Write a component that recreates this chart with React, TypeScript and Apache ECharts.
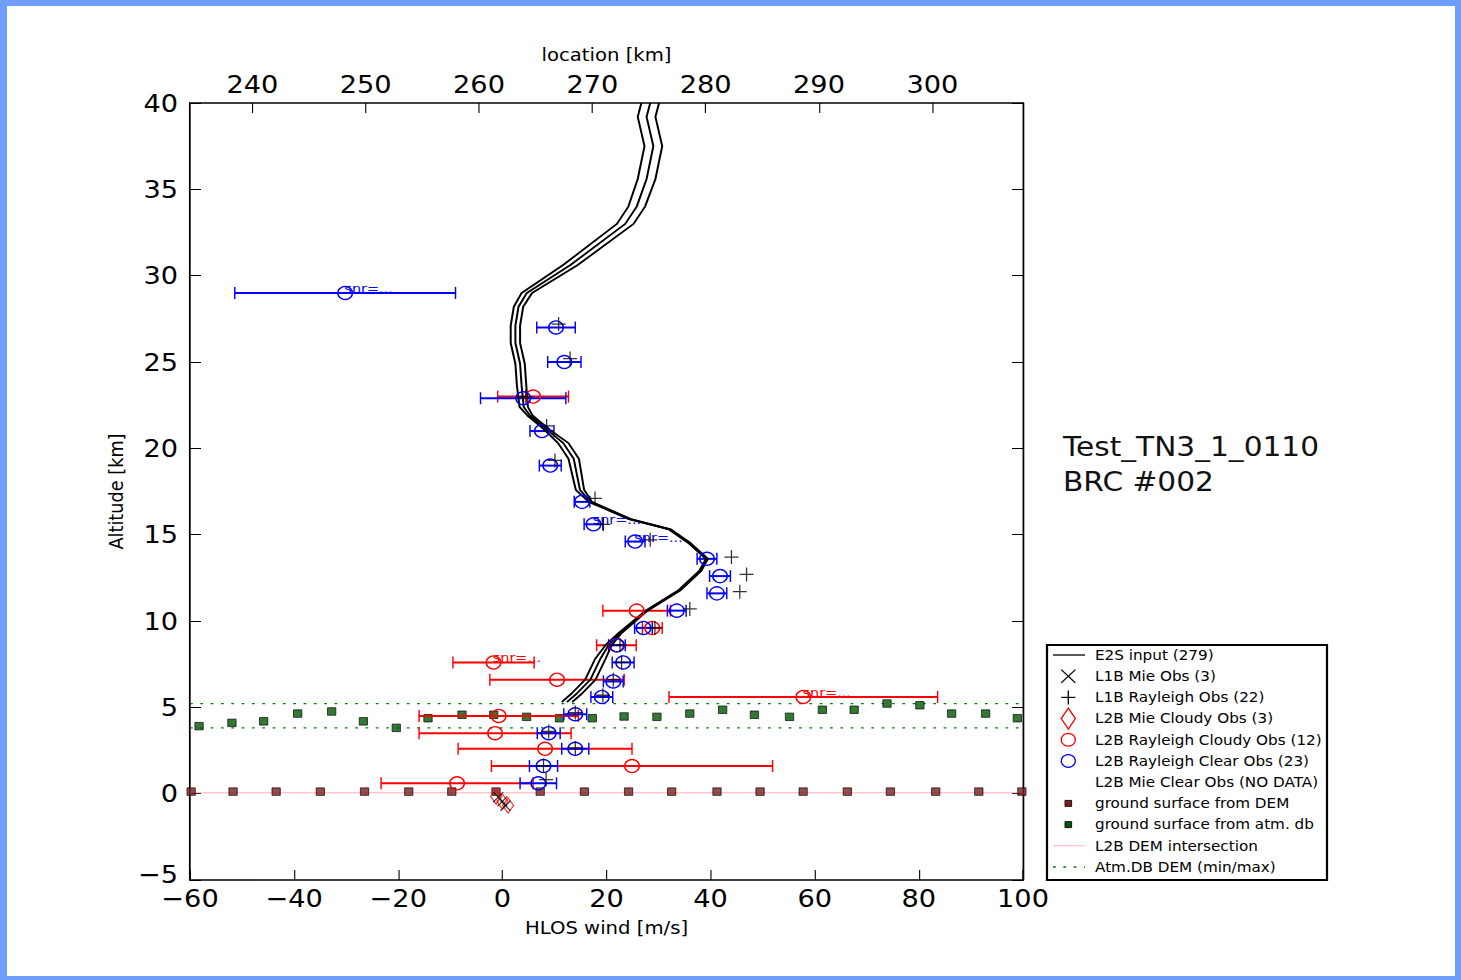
import React, { useEffect, useRef } from 'react';
import * as echarts from 'echarts';

// The reference picture is stretched horizontally; the chart is drawn narrower and scaled back.
const SX = 1.11;
const sx = (v: number) => v / SX;

// Axes
const WIND_MIN = -60;
const WIND_MAX = 100;
const WIND_STEP = 20;
const ALT_MIN = -5;
const ALT_MAX = 40;
const ALT_STEP = 5;
const LOC_MIN = 234.5;
const LOC_MAX = 308.0;

// E2S input profiles (three neighbouring profiles)
const E2S_ALT = [40.0, 39.2, 37.5, 35.6, 34.0, 33.0, 30.6, 29.0, 28.2, 27.1, 26.1, 24.9, 23.6, 22.4, 21.9, 21.1, 20.3, 19.4, 17.6, 16.9, 15.9, 15.3, 14.5, 13.6, 12.9, 11.8, 10.6, 9.3, 8.6, 7.8, 6.6, 5.8, 5.3];
const E2S_WIND_A = [26.7, 26.0, 27.3, 26.0, 24.2, 22.0, 11.6, 3.7, 2.2, 1.6, 1.6, 2.5, 2.8, 3.3, 4.8, 8.0, 10.7, 12.7, 14.1, 16.6, 24.3, 32.0, 35.8, 39.1, 37.8, 33.9, 27.5, 22.3, 19.8, 17.8, 15.9, 13.3, 11.4];
const E2S_WIND_B = [28.4, 27.7, 29.0, 27.7, 25.8, 23.6, 13.0, 4.7, 3.1, 2.5, 2.5, 3.4, 3.7, 4.1, 5.3, 8.5, 11.7, 13.7, 14.9, 16.9, 24.5, 32.2, 36.0, 39.3, 38.0, 34.1, 27.7, 22.6, 20.4, 18.8, 16.9, 14.3, 12.4];
const E2S_WIND_C = [30.1, 29.4, 30.7, 29.4, 27.4, 25.2, 14.4, 5.7, 4.0, 3.4, 3.4, 4.3, 4.6, 4.9, 5.8, 9.0, 12.7, 14.7, 15.7, 17.2, 24.7, 32.4, 36.2, 39.5, 38.2, 34.3, 27.9, 22.9, 21.0, 19.8, 17.9, 15.3, 13.4];

// L1B Mie Obs (3)
const L1B_MIE_WIND = [-0.8, 0.0, 0.6];
const L1B_MIE_ALT = [-0.2, -0.45, -0.7];

// L1B Rayleigh Obs (22)
const L1B_RAY_WIND = [10.8, 13.0, 4.5, 8.5, 10.1, 17.8, 19.4, 28.4, 44.0, 46.9, 45.6, 36.0, 29.3, 22.6, 22.9, 21.3, 19.3, 14.0, 8.9, 14.0, 7.9, 8.4];
const L1B_RAY_ALT = [27.2, 25.2, 23.0, 21.3, 19.3, 17.1, 15.6, 14.7, 13.7, 12.7, 11.7, 10.7, 9.6, 8.6, 7.6, 6.6, 5.7, 4.7, 3.6, 2.65, 1.63, 0.82];

// L2B Mie Cloudy Obs (3)
const L2B_MIE_WIND = [-1.2, 0.0, 1.1];
const L2B_MIE_ALT = [-0.17, -0.45, -0.69];

// L2B Rayleigh Cloudy Obs (12)
const RED_WIND = [5.9, 25.8, 21.9, -1.7, 10.5, 57.8, -0.7, -1.4, 8.2, 24.9, -8.7, 28.8];
const RED_ALT = [23.0, 10.6, 8.6, 7.6, 6.6, 5.6, 4.5, 3.5, 2.6, 1.6, 0.6, 9.6];
const RED_ERR = [6.8, 6.5, 3.8, 7.8, 12.9, 25.8, 15.3, 14.6, 16.7, 27.0, 14.6, 1.9];
const RED_SNR = [3, 5];

// L2B Rayleigh Clear Obs (23)
const BLUE_WIND = [-30.2, 10.3, 11.9, 4.0, 7.6, 9.2, 15.3, 17.5, 25.5, 39.3, 41.8, 41.2, 33.5, 27.1, 22.0, 23.2, 21.3, 19.1, 14.0, 8.9, 14.0, 7.9, 6.9];
const BLUE_ALT = [29.0, 27.0, 25.0, 22.9, 21.0, 19.0, 16.9, 15.6, 14.6, 13.6, 12.6, 11.6, 10.6, 9.6, 8.6, 7.6, 6.5, 5.6, 4.6, 3.5, 2.6, 1.6, 0.6];
const BLUE_ERR = [21.2, 3.7, 3.2, 8.2, 2.3, 2.1, 1.5, 1.8, 1.9, 1.9, 2.0, 1.9, 1.8, 1.7, 1.6, 2.1, 1.9, 2.1, 2.2, 2.2, 2.6, 2.7, 3.5];
const BLUE_SNR = [0, 7, 8];

// ground surface from DEM (location km / altitude km)
const DEM_LOC = [234.6, 238.3, 242.1, 246.0, 249.9, 253.8, 257.6, 261.5, 265.4, 269.3, 273.2, 277.0, 281.0, 284.8, 288.6, 292.5, 296.3, 300.3, 304.1, 307.9];
const DEM_ALT = [0.12, 0.12, 0.12, 0.12, 0.12, 0.12, 0.12, 0.12, 0.12, 0.12, 0.12, 0.12, 0.12, 0.12, 0.12, 0.12, 0.12, 0.12, 0.12, 0.12];

// ground surface from atm. db
const ATM_LOC = [235.3, 238.2, 241.0, 244.0, 247.0, 249.8, 252.7, 255.5, 258.5, 261.3, 264.2, 267.1, 270.0, 272.8, 275.7, 278.6, 281.5, 284.3, 287.4, 290.3, 293.1, 296.0, 298.9, 301.7, 304.7, 307.5];
const ATM_ALT = [3.91, 4.10, 4.19, 4.64, 4.76, 4.19, 3.81, 4.37, 4.57, 4.57, 4.45, 4.37, 4.37, 4.47, 4.45, 4.64, 4.86, 4.57, 4.45, 4.86, 4.86, 5.22, 5.12, 4.64, 4.64, 4.37];

// L2B DEM intersection
const DEM_INTERSECTION_ALT = 0.05;

const LEGEND_LABELS = [
  'E2S input (279)',
  'L1B Mie Obs (3)',
  'L1B Rayleigh Obs (22)',
  'L2B Mie Cloudy Obs (3)',
  'L2B Rayleigh Cloudy Obs (12)',
  'L2B Rayleigh Clear Obs (23)',
  'L2B Mie Clear Obs (NO DATA)',
  'ground surface from DEM',
  'ground surface from atm. db',
  'L2B DEM intersection',
  'Atm.DB DEM (min/max)',
];

const TITLE_LINES = ['Test_TN3_1_0110', 'BRC #002'];

const FONT = 'DejaVu Sans';
const BLUE = '#0000ff';
const RED = '#ff0000';
const GREEN_SQ = '#005800';
const BROWN_SQ = '#7d1f1f';
const PINK = '#ffb0bc';
const GREEN_LINE = '#008000';

const minus = (v: number) => String(v).replace('-', '\u2212');

const zip = (xs: number[], ys: number[]) => xs.map((x, i) => [x, ys[i]]);

function errorBars(name: string, xs: number[], ys: number[], errs: number[], color: string) {
  return {
    type: 'custom',
    name,
    xAxisIndex: 0,
    yAxisIndex: 0,
    clip: true,
    silent: true,
    z: 3,
    data: xs.map((x, i) => [x, ys[i], x - errs[i], x + errs[i]]),
    encode: { x: [0, 2, 3], y: 1 },
    renderItem: (_params: any, api: any) => {
      const y = api.value(1);
      const lo = api.coord([api.value(2), y]);
      const hi = api.coord([api.value(3), y]);
      const cap = 6;
      return {
        type: 'group',
        children: [
          { type: 'line', shape: { x1: lo[0], y1: lo[1], x2: hi[0], y2: hi[1] }, style: { stroke: color, lineWidth: 2 } },
          { type: 'line', shape: { x1: lo[0], y1: lo[1] - cap, x2: lo[0], y2: lo[1] + cap }, style: { stroke: color, lineWidth: 1.3 } },
          { type: 'line', shape: { x1: hi[0], y1: hi[1] - cap, x2: hi[0], y2: hi[1] + cap }, style: { stroke: color, lineWidth: 1.3 } },
        ],
      };
    },
  };
}

function circles(name: string, xs: number[], ys: number[], color: string, snr: number[]) {
  return {
    type: 'scatter',
    name,
    xAxisIndex: 0,
    yAxisIndex: 0,
    silent: true,
    z: 5,
    symbol: 'circle',
    symbolSize: 13,
    itemStyle: { color: 'rgba(0,0,0,0)', borderColor: color, borderWidth: 1.4, opacity: 1 },
    data: xs.map((x, i) =>
      snr.includes(i)
        ? {
            value: [x, ys[i]],
            label: {
              show: true,
              formatter: 'snr=...',
              position: [6.5, 2.5],
              align: 'left',
              verticalAlign: 'middle',
              color,
              fontSize: 13,
              fontFamily: FONT,
            },
          }
        : { value: [x, ys[i]] }
    ),
  };
}

function hline(name: string, y: number, style: any) {
  return {
    type: 'line',
    name,
    xAxisIndex: 0,
    yAxisIndex: 0,
    silent: true,
    symbol: 'none',
    z: 1,
    lineStyle: style,
    data: [
      [WIND_MIN, y],
      [WIND_MAX, y],
    ],
  };
}

function buildLegend() {
  const boxLeft = sx(1047);
  const boxRight = sx(1327);
  const boxTop = 645;
  const boxBottom = 880;
  const y0 = 655;
  const dy = 21.2;
  const lineX1 = sx(1053);
  const lineX2 = sx(1085);
  const cx = sx(1068.3);
  const textX = sx(1095);
  const children: any[] = [
    {
      type: 'rect',
      shape: { x: boxLeft, y: boxTop, width: boxRight - boxLeft, height: boxBottom - boxTop },
      style: { fill: '#fff', stroke: '#000', lineWidth: 2 },
    },
  ];
  LEGEND_LABELS.forEach((label, i) => {
    const y = y0 + i * dy;
    children.push({
      type: 'text',
      style: { x: textX, y, text: label, fill: '#000', font: `13.7px "${FONT}"`, textVerticalAlign: 'middle', textAlign: 'left' },
    });
    if (i === 0) {
      children.push({ type: 'line', shape: { x1: lineX1, y1: y, x2: lineX2, y2: y }, style: { stroke: '#000', lineWidth: 1.3 } });
    } else if (i === 1) {
      children.push({ type: 'line', shape: { x1: cx - 6.4, y1: y - 6.6, x2: cx + 6.4, y2: y + 6.6 }, style: { stroke: '#000', lineWidth: 1.2 } });
      children.push({ type: 'line', shape: { x1: cx + 6.4, y1: y - 6.6, x2: cx - 6.4, y2: y + 6.6 }, style: { stroke: '#000', lineWidth: 1.2 } });
    } else if (i === 2) {
      children.push({ type: 'line', shape: { x1: cx - 6.4, y1: y, x2: cx + 6.4, y2: y }, style: { stroke: '#000', lineWidth: 1.2 } });
      children.push({ type: 'line', shape: { x1: cx, y1: y - 7, x2: cx, y2: y + 7 }, style: { stroke: '#000', lineWidth: 1.2 } });
    } else if (i === 3) {
      children.push({
        type: 'polygon',
        shape: { points: [[cx, y - 10.5], [cx + 6.4, y], [cx, y + 10.5], [cx - 6.4, y]] },
        style: { fill: 'none', stroke: RED, lineWidth: 1.2 },
      });
    } else if (i === 4 || i === 5) {
      children.push({ type: 'circle', shape: { cx, cy: y, r: 6.3 }, style: { fill: 'none', stroke: i === 4 ? RED : BLUE, lineWidth: 1.2 } });
    } else if (i === 7 || i === 8) {
      children.push({
        type: 'rect',
        shape: { x: cx - 3, y: y - 3, width: 6, height: 6 },
        style: { fill: i === 7 ? BROWN_SQ : GREEN_SQ, stroke: '#000', lineWidth: 0.8 },
      });
    } else if (i === 9) {
      children.push({ type: 'line', shape: { x1: lineX1, y1: y, x2: lineX2, y2: y }, style: { stroke: PINK, lineWidth: 1 } });
    } else if (i === 10) {
      children.push({ type: 'line', shape: { x1: lineX1, y1: y, x2: lineX2, y2: y }, style: { stroke: GREEN_LINE, lineWidth: 1.3, lineDash: [2.5, 6.8] } });
    }
  });
  return children;
}

function buildOption() {
  const axisLine = { show: true, onZero: false, lineStyle: { color: '#000', width: 1.6 } };
  const labelStyle = { color: '#000', fontSize: 24.5, fontFamily: FONT };
  const nameStyle = { color: '#000', fontSize: 17.7, fontFamily: FONT };
  const atmMin = Math.min(...ATM_ALT);
  const atmMax = Math.max(...ATM_ALT);

  return {
    animation: false,
    backgroundColor: '#fff',
    textStyle: { fontFamily: FONT },
    grid: { left: sx(190), top: 103, width: sx(833), height: 777, containLabel: false },
    xAxis: [
      {
        type: 'value',
        position: 'bottom',
        min: WIND_MIN,
        max: WIND_MAX,
        interval: WIND_STEP,
        axisLine,
        axisTick: { show: true, inside: true, length: 10, lineStyle: { color: '#000', width: 1 } },
        axisLabel: { ...labelStyle, margin: 6, formatter: minus, showMinLabel: true, showMaxLabel: true },
        splitLine: { show: false },
        name: 'HLOS wind [m/s]',
        nameLocation: 'middle',
        nameGap: 39,
        nameTextStyle: nameStyle,
      },
      {
        type: 'value',
        position: 'top',
        min: LOC_MIN,
        max: LOC_MAX,
        axisLine,
        axisTick: { show: true, inside: true, length: 10, lineStyle: { color: '#000', width: 1 } },
        axisLabel: { ...labelStyle, margin: 6, showMinLabel: false, showMaxLabel: false },
        splitLine: { show: false },
        name: 'location [km]',
        nameLocation: 'middle',
        nameGap: 39,
        nameTextStyle: nameStyle,
      },
    ],
    yAxis: [
      {
        type: 'value',
        position: 'left',
        min: ALT_MIN,
        max: ALT_MAX,
        interval: ALT_STEP,
        axisLine,
        axisTick: { show: true, inside: true, length: sx(11), lineStyle: { color: '#000', width: 1 } },
        axisLabel: {
          ...labelStyle,
          margin: sx(12),
          formatter: (v: number) => (v === ALT_MIN ? `{lift|${minus(v)}}` : minus(v)),
          rich: { lift: { fontSize: 24.5, fontFamily: FONT, color: '#000', padding: [0, 0, 12, 0] } },
        },
        splitLine: { show: false },
        name: 'Altitude [km]',
        nameLocation: 'middle',
        nameGap: sx(63),
        nameRotate: 90,
        nameTextStyle: nameStyle,
      },
      {
        type: 'value',
        position: 'right',
        min: ALT_MIN,
        max: ALT_MAX,
        interval: ALT_STEP,
        axisLine,
        axisTick: { show: true, inside: true, length: sx(11), lineStyle: { color: '#000', width: 1 } },
        axisLabel: { show: false },
        splitLine: { show: false },
      },
    ],
    graphic: [
      ...TITLE_LINES.map((t, i) => ({
        type: 'text',
        style: { x: sx(1063), y: 447 + i * 35, text: t, fill: '#111', font: `26.7px "${FONT}"`, textVerticalAlign: 'middle', textAlign: 'left' },
      })),
      ...buildLegend(),
    ],
    series: [
      hline('L2B DEM intersection', DEM_INTERSECTION_ALT, { color: PINK, width: 1 }),
      hline('Atm.DB DEM (max)', atmMax, { color: GREEN_LINE, width: 1.3, type: [2.5, 6.8] }),
      hline('Atm.DB DEM (min)', atmMin, { color: GREEN_LINE, width: 1.3, type: [2.5, 6.8] }),
      {
        type: 'scatter',
        name: 'ground surface from DEM',
        xAxisIndex: 1,
        yAxisIndex: 0,
        silent: true,
        z: 2,
        symbol: 'rect',
        symbolSize: 7.5,
        itemStyle: { color: BROWN_SQ, borderColor: '#000', borderWidth: 0.8 },
        data: zip(DEM_LOC, DEM_ALT),
      },
      {
        type: 'scatter',
        name: 'ground surface from atm. db',
        xAxisIndex: 1,
        yAxisIndex: 0,
        silent: true,
        z: 2,
        symbol: 'rect',
        symbolSize: 7.5,
        itemStyle: { color: GREEN_SQ, borderColor: '#000', borderWidth: 0.8 },
        data: zip(ATM_LOC, ATM_ALT),
      },
      ...[E2S_WIND_A, E2S_WIND_B, E2S_WIND_C].map((w, k) => ({
        type: 'line',
        name: 'E2S input ' + k,
        xAxisIndex: 0,
        yAxisIndex: 0,
        silent: true,
        symbol: 'none',
        z: 4,
        lineStyle: { color: '#000', width: 1.8 },
        data: zip(w, E2S_ALT),
      })),
      errorBars('L2B Rayleigh Cloudy err', RED_WIND, RED_ALT, RED_ERR, RED),
      errorBars('L2B Rayleigh Clear err', BLUE_WIND, BLUE_ALT, BLUE_ERR, BLUE),
      circles('L2B Rayleigh Cloudy Obs', RED_WIND, RED_ALT, RED, RED_SNR),
      circles('L2B Rayleigh Clear Obs', BLUE_WIND, BLUE_ALT, BLUE, BLUE_SNR),
      {
        type: 'scatter',
        name: 'L1B Rayleigh Obs',
        xAxisIndex: 0,
        yAxisIndex: 0,
        silent: true,
        z: 6,
        symbol: 'path://M0,7L14,7M7,0L7,14',
        symbolSize: [12.6, 14],
        itemStyle: { color: 'rgba(0,0,0,0)', borderColor: '#000', borderWidth: 1.2 },
        data: zip(L1B_RAY_WIND, L1B_RAY_ALT),
      },
      {
        type: 'scatter',
        name: 'L2B Mie Cloudy Obs',
        xAxisIndex: 0,
        yAxisIndex: 0,
        silent: true,
        z: 6,
        symbol: 'diamond',
        symbolSize: [10, 15],
        itemStyle: { color: 'rgba(0,0,0,0)', borderColor: RED, borderWidth: 1.2 },
        data: zip(L2B_MIE_WIND, L2B_MIE_ALT),
      },
      {
        type: 'scatter',
        name: 'L1B Mie Obs',
        xAxisIndex: 0,
        yAxisIndex: 0,
        silent: true,
        z: 7,
        symbol: 'path://M0,0L10,10M10,0L0,10',
        symbolSize: [9, 10],
        itemStyle: { color: 'rgba(0,0,0,0)', borderColor: '#000', borderWidth: 1.1 },
        data: zip(L1B_MIE_WIND, L1B_MIE_ALT),
      },
    ],
  };
}

export default function App() {
  const ref = useRef<HTMLDivElement>(null);
  useEffect(() => {
    if (!ref.current) return;
    const chart = echarts.init(ref.current, null, { renderer: 'svg' });
    chart.setOption(buildOption() as any);
    return () => chart.dispose();
  }, []);
  return (
    <div style={{ position: 'fixed', left: 0, top: 0, width: 1461, height: 980, overflow: 'hidden', background: '#fff' }}>
      <div
        ref={ref}
        style={{ position: 'absolute', left: 0, top: 0, width: 1461 / SX, height: 980, transform: `scaleX(${SX})`, transformOrigin: '0 0' }}
      />
      <div
        style={{
          position: 'absolute',
          left: 0,
          top: 0,
          width: 1461,
          height: 980,
          boxSizing: 'border-box',
          borderStyle: 'solid',
          borderColor: '#6f9dfc',
          borderWidth: '6px 6px 4px 7px',
          pointerEvents: 'none',
        }}
      />
    </div>
  );
}
